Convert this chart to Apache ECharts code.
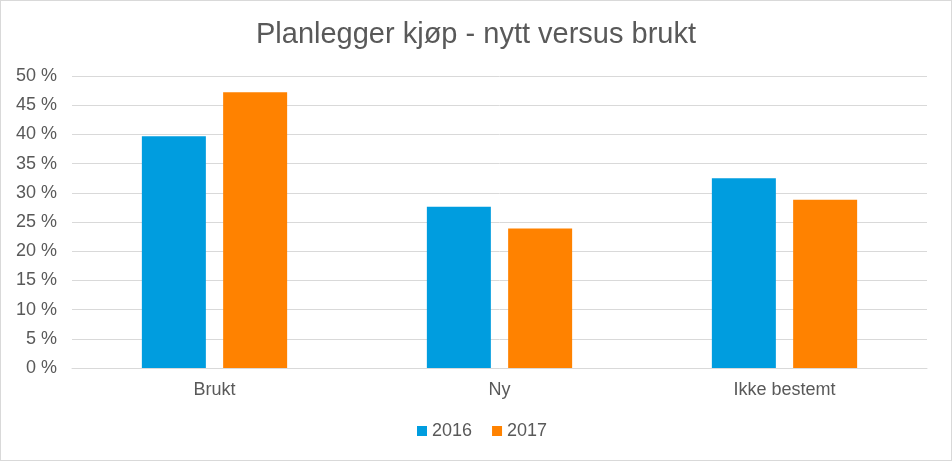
<!DOCTYPE html>
<html><head><meta charset="utf-8">
<script src="https://cdn.jsdelivr.net/npm/echarts@6/dist/echarts.min.js"></script>
<style>html,body{margin:0;padding:0;background:#fff}#c{width:950px;height:459px;border:1px solid #d9d9d9}</style>
</head><body><div id="c"></div>
<script>
const categories = ["Brukt", "Ny", "Ikke bestemt"];
const series2016 = [39.7, 27.6, 32.5];
const series2017 = [47.2, 23.9, 28.8];
const seriesNames = ["2016", "2017"];
const chart = echarts.init(document.getElementById('c'));
const txt = '#595959';
chart.setOption({
  animation: false,
  textStyle: {fontFamily: 'Liberation Sans, Arial, sans-serif'},
  title: {text: 'Planlegger kjøp - nytt versus brukt', left: 'center', top: 14,
    textStyle: {fontSize: 29, fontWeight: 'normal', color: txt, fontFamily: 'Liberation Sans, Arial, sans-serif'}},
  legend: {bottom: 15, left: 411, itemWidth: 10, itemHeight: 10, itemGap: 20, icon: 'rect',
    textStyle: {fontSize: 18, color: txt}, data: seriesNames},
  grid: {left: 71, right: 24, top: 75, bottom: 92},
  xAxis: {type: 'category', data: categories,
    axisLine: {lineStyle: {color: '#d9d9d9'}}, axisTick: {show: false},
    axisLabel: {color: txt, fontSize: 18, margin: 13}},
  yAxis: {type: 'value', min: 0, max: 50, interval: 5,
    axisLabel: {formatter: '{value} %', color: txt, fontSize: 18, margin: 15},
    splitLine: {lineStyle: {color: '#d9d9d9'}}, axisLine: {show: false}},
  series: [
    {name: seriesNames[0], type: 'bar', data: series2016, barWidth: 64, barGap: '27%', itemStyle: {color: '#009ddf'}},
    {name: seriesNames[1], type: 'bar', data: series2017, barWidth: 64, itemStyle: {color: '#ff8200'}}
  ]
});
</script></body></html>
